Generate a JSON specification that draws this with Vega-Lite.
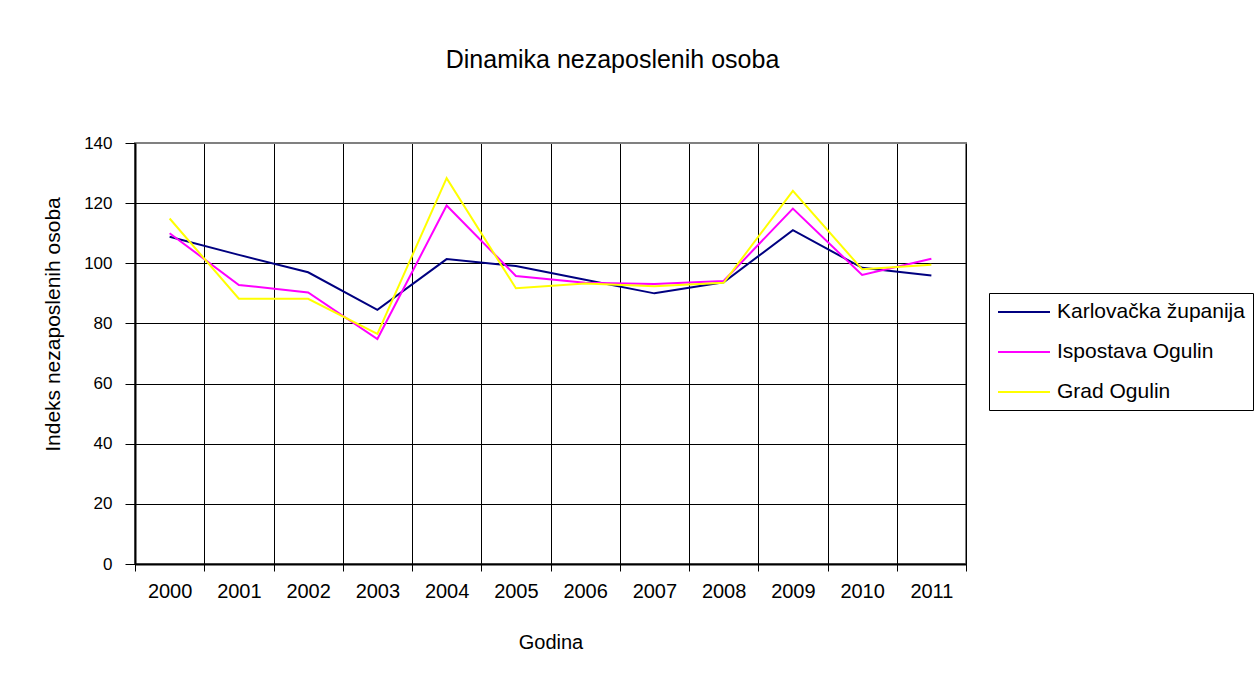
{
  "$schema": "https://vega.github.io/schema/vega-lite/v6.json",
  "width": 831,
  "height": 421,
  "autosize": {"type": "none"},
  "padding": {"left": 135, "top": 143, "right": 289, "bottom": 125},
  "background": "white",
  "title": {"text": "Dinamika nezaposlenih osoba", "fontSize": 25, "font": "Liberation Sans", "fontWeight": "normal", "color": "black", "anchor": "middle", "frame": "group", "dx": 62, "offset": 41, "baseline": "alphabetic"},
  "config": {"view": {"stroke": "#808080", "strokeWidth": 2}, "font": "Liberation Sans"},
  "data": {"values": [
    {"year": "2000", "series": "Karlovačka županija", "value": 108.8},
    {"year": "2001", "series": "Karlovačka županija", "value": 102.8},
    {"year": "2002", "series": "Karlovačka županija", "value": 97.0},
    {"year": "2003", "series": "Karlovačka županija", "value": 84.5},
    {"year": "2004", "series": "Karlovačka županija", "value": 101.4},
    {"year": "2005", "series": "Karlovačka županija", "value": 99.1},
    {"year": "2006", "series": "Karlovačka županija", "value": 94.5},
    {"year": "2007", "series": "Karlovačka županija", "value": 90.0},
    {"year": "2008", "series": "Karlovačka županija", "value": 93.7},
    {"year": "2009", "series": "Karlovačka županija", "value": 111.0},
    {"year": "2010", "series": "Karlovačka županija", "value": 98.5},
    {"year": "2011", "series": "Karlovačka županija", "value": 95.9},
    {"year": "2000", "series": "Ispostava Ogulin", "value": 110.0},
    {"year": "2001", "series": "Ispostava Ogulin", "value": 92.8},
    {"year": "2002", "series": "Ispostava Ogulin", "value": 90.3},
    {"year": "2003", "series": "Ispostava Ogulin", "value": 74.8},
    {"year": "2004", "series": "Ispostava Ogulin", "value": 119.2},
    {"year": "2005", "series": "Ispostava Ogulin", "value": 95.8},
    {"year": "2006", "series": "Ispostava Ogulin", "value": 93.5},
    {"year": "2007", "series": "Ispostava Ogulin", "value": 93.1},
    {"year": "2008", "series": "Ispostava Ogulin", "value": 94.1},
    {"year": "2009", "series": "Ispostava Ogulin", "value": 118.2},
    {"year": "2010", "series": "Ispostava Ogulin", "value": 96.1},
    {"year": "2011", "series": "Ispostava Ogulin", "value": 101.5},
    {"year": "2000", "series": "Grad Ogulin", "value": 114.9},
    {"year": "2001", "series": "Grad Ogulin", "value": 88.2},
    {"year": "2002", "series": "Grad Ogulin", "value": 88.2},
    {"year": "2003", "series": "Grad Ogulin", "value": 76.5},
    {"year": "2004", "series": "Grad Ogulin", "value": 128.3},
    {"year": "2005", "series": "Grad Ogulin", "value": 91.7},
    {"year": "2006", "series": "Grad Ogulin", "value": 93.3},
    {"year": "2007", "series": "Grad Ogulin", "value": 92.4},
    {"year": "2008", "series": "Grad Ogulin", "value": 93.5},
    {"year": "2009", "series": "Grad Ogulin", "value": 124.1},
    {"year": "2010", "series": "Grad Ogulin", "value": 98.0},
    {"year": "2011", "series": "Grad Ogulin", "value": 99.5}
  ]},
  "mark": {"type": "line", "strokeWidth": 2},
  "encoding": {
    "x": {
      "field": "year", "type": "ordinal", "bandPosition": 0.5,
      "scale": {"type": "band", "paddingInner": 0, "paddingOuter": 0},
      "axis": {
        "title": "Godina", "titleFontSize": 20, "titleFontWeight": "normal", "titleColor": "black",
        "titleY": 84, "titleBaseline": "alphabetic",
        "labelAngle": 0, "labelFontSize": 20, "labelColor": "black", "labelBaseline": "alphabetic", "labelPadding": 26,
        "tickSize": 7, "tickColor": "black", "tickBand": "extent",
        "grid": true, "gridColor": "black", "gridOpacity": 1,
        "domainColor": "black", "domainWidth": 2
      }
    },
    "y": {
      "field": "value", "type": "quantitative",
      "scale": {"domain": [0, 140]},
      "axis": {
        "title": "Indeks nezaposlenih osoba", "titleFontSize": 21, "titleFontWeight": "normal", "titleColor": "black",
        "titleX": -76, "titleY": 181, "titleBaseline": "alphabetic",
        "values": [0, 20, 40, 60, 80, 100, 120, 140],
        "labelFontSize": 17, "labelColor": "black", "labelPadding": 13,
        "tickSize": 10, "tickColor": "black",
        "grid": true, "gridColor": {"condition": {"test": "datum.value === 140", "value": "#808080"}, "value": "black"}, "gridOpacity": 1,
        "domainColor": "black", "domainWidth": 2
      }
    },
    "color": {
      "field": "series", "type": "nominal",
      "scale": {"domain": ["Karlovačka županija", "Ispostava Ogulin", "Grad Ogulin"], "range": ["#000080", "#FF00FF", "#FFFF00"]},
      "legend": {
        "title": null, "orient": "none", "legendX": 854, "legendY": 150,
        "strokeColor": "black", "fillColor": "white", "padding": 8,
        "labelFontSize": 21, "labelColor": "black", "labelFont": "Liberation Sans", "labelLimit": 400,
        "symbolType": "M-1,0H4.2", "symbolSize": 400, "symbolStrokeWidth": 2,
        "labelOffset": 38, "rowPadding": 19
      }
    }
  }
}
